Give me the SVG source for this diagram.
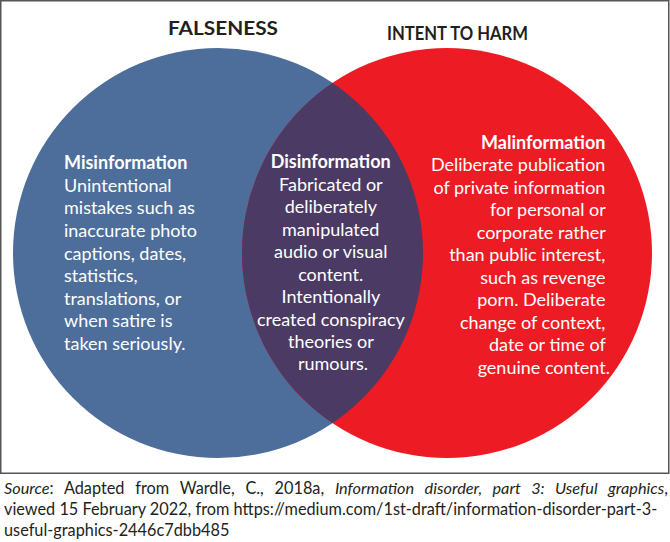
<svg xmlns="http://www.w3.org/2000/svg" width="670" height="542" viewBox="0 0 670 542">
<style>
.t{font-family:Lato,"Open Sans","Liberation Sans",sans-serif;fill:#fff;font-size:18px}
.b{font-weight:bold}
.h{font-family:Lato,"Open Sans","Liberation Sans",sans-serif;fill:#231f20;font-size:19px;font-weight:bold;text-anchor:middle}
.s{font-family:Lato,"Open Sans","Liberation Sans",sans-serif;fill:#231f20;font-size:16.3px}
</style>
<defs>
<clipPath id="clipBlue"><circle cx="218" cy="253" r="205"/></clipPath>
</defs>
<rect x="0.75" y="0.75" width="668" height="472.5" fill="#fff" stroke="#555" stroke-width="1.5"/>
<g id="falseness">
<circle cx="218" cy="253" r="205" fill="#4d6e9a"/>
<text class="h" x="223" y="35" textLength="110" lengthAdjust="spacingAndGlyphs">FALSENESS</text>
</g>
<g id="intent-to-harm">
<circle cx="447" cy="253" r="205" fill="#ed1c24"/>
<text class="h" x="457.5" y="40" textLength="141" lengthAdjust="spacingAndGlyphs">INTENT TO HARM</text>
</g>
<g id="overlap">
<circle cx="447" cy="253" r="205" fill="#4b3a63" clip-path="url(#clipBlue)"/>
</g>
<g id="misinformation">
<text class="t" x="64">
<tspan class="b" x="64" y="169">Misinformation</tspan>
<tspan x="64" y="192">Unintentional</tspan>
<tspan x="64" y="214">mistakes such as</tspan>
<tspan x="64" y="237">inaccurate photo</tspan>
<tspan x="64" y="260">captions, dates,</tspan>
<tspan x="64" y="282">statistics,</tspan>
<tspan x="64" y="305">translations, or</tspan>
<tspan x="64" y="327">when satire is</tspan>
<tspan x="64" y="350">taken seriously.</tspan>
</text>
</g>
<g id="disinformation">
<text class="t" text-anchor="middle">
<tspan class="b" x="333" y="168">Disinformation</tspan>
<tspan x="333" y="191">Fabricated or</tspan>
<tspan x="333" y="213">deliberately</tspan>
<tspan x="333" y="236">manipulated</tspan>
<tspan x="333" y="258">audio or visual</tspan>
<tspan x="333" y="281">content.</tspan>
<tspan x="333" y="303">Intentionally</tspan>
<tspan x="333" y="326">created conspiracy</tspan>
<tspan x="333" y="348">theories or</tspan>
<tspan x="333" y="370">rumours.</tspan>
</text>
</g>
<g id="malinformation">
<text class="t" text-anchor="end">
<tspan class="b" x="610" y="149">Malinformation</tspan>
<tspan x="610" y="171">Deliberate publication</tspan>
<tspan x="610" y="194">of private information</tspan>
<tspan x="610" y="216">for personal or</tspan>
<tspan x="610" y="239">corporate rather</tspan>
<tspan x="610" y="261">than public interest,</tspan>
<tspan x="610" y="284">such as revenge</tspan>
<tspan x="610" y="306">porn. Deliberate</tspan>
<tspan x="610" y="329">change of context,</tspan>
<tspan x="610" y="351">date or time of</tspan>
<tspan x="610" y="374">genuine content.</tspan>
</text>
</g>
<g id="source">
<text class="s" x="4" y="494" word-spacing="6.6"><tspan font-style="italic">Source</tspan>: Adapted from Wardle, C., 2018a, <tspan font-style="italic">Information disorder, part 3: Useful graphics</tspan>,</text>
<text class="s" x="4" y="515">viewed 15 February 2022, from https://medium.com/1st-draft/information-disorder-part-3-</text>
<text class="s" x="4" y="536">useful-graphics-2446c7dbb485</text>
</g>
</svg>
